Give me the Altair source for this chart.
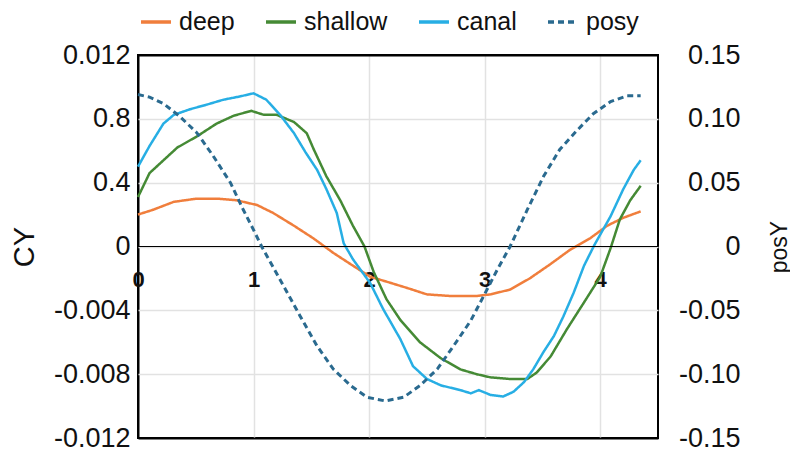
import altair as alt
import pandas as pd

# ---- data ----
deep_x = [0, 0.13, 0.31, 0.51, 0.68, 0.85, 1.03, 1.17, 1.35, 1.52, 1.69, 1.86, 2.01, 2.15, 2.33, 2.5, 2.7, 2.93,
          3.05, 3.22, 3.39, 3.57, 3.74, 3.91, 4.06, 4.2, 4.35]
deep_y = [0.0020, 0.0023, 0.0028, 0.0030, 0.0030, 0.0029, 0.0026, 0.0021, 0.0013, 0.0005, -0.0004, -0.0012, -0.0019,
          -0.0022, -0.0026, -0.0030, -0.0031, -0.0031, -0.0030, -0.0027, -0.0020, -0.0011, -0.0002, 0.0005, 0.0013,
          0.0018, 0.0022]

shallow_x = [0, 0.10, 0.22, 0.34, 0.51, 0.68, 0.83, 0.98, 1.09, 1.2, 1.35, 1.46, 1.52, 1.63, 1.75, 1.86, 1.96, 2.04,
             2.15, 2.27, 2.44, 2.62, 2.79, 2.93, 3.05, 3.22, 3.37, 3.45, 3.57, 3.71, 3.86, 4.0, 4.09, 4.17, 4.26, 4.35]
shallow_y = [0.0031, 0.0046, 0.0054, 0.0062, 0.0069, 0.0077, 0.0082, 0.0085, 0.00825, 0.00825, 0.0078, 0.0071,
             0.0061, 0.0044, 0.0029, 0.0013, 0.0, -0.0016, -0.0033, -0.0046, -0.0060, -0.0070, -0.0077, -0.0080,
             -0.0082, -0.0083, -0.0083, -0.0079, -0.0069, -0.0052, -0.0035, -0.0019, -0.0001, 0.0017, 0.0029, 0.0038]

canal_x = [0, 0.10, 0.22, 0.31, 0.45, 0.6, 0.74, 0.88, 1.0, 1.11, 1.23, 1.35, 1.45, 1.55, 1.63, 1.72, 1.78, 1.86,
           2.01, 2.12, 2.27, 2.38, 2.5, 2.62, 2.79, 2.88, 2.95, 3.05, 3.16, 3.25, 3.34, 3.42, 3.51, 3.6, 3.68, 3.77,
           3.86, 3.95, 4.09, 4.2, 4.29, 4.35]
canal_y = [0.0050, 0.0063, 0.0077, 0.00825, 0.0086, 0.0089, 0.0092, 0.0094, 0.0096, 0.0092, 0.00825, 0.0071, 0.0059,
           0.0048, 0.0036, 0.0021, 0.0002, -0.0008, -0.0023, -0.0039, -0.0058, -0.0075, -0.0083, -0.0087, -0.0090,
           -0.0092, -0.0090, -0.0093, -0.0094, -0.0091, -0.0085, -0.0077, -0.0066, -0.0056, -0.0044, -0.0029,
           -0.0012, 0.0001, 0.0019, 0.0036, 0.0048, 0.0054]

posy_x = [0, 0.1, 0.22, 0.36, 0.51, 0.65, 0.8, 0.91, 1.0, 1.07, 1.26, 1.4, 1.55, 1.69, 1.84, 1.98, 2.14, 2.3, 2.44,
          2.59, 2.73, 2.88, 2.99, 3.11, 3.22, 3.37, 3.51, 3.65, 3.8, 3.94, 4.09, 4.23, 4.35]
posy_y = [0.119, 0.117, 0.112, 0.102, 0.089, 0.071, 0.050, 0.029, 0.013, 0.0, -0.031, -0.054, -0.078, -0.096,
          -0.109, -0.118, -0.121, -0.118, -0.109, -0.096, -0.078, -0.058, -0.039, -0.018, 0.0, 0.029, 0.055, 0.076,
          0.091, 0.104, 0.1135, 0.118, 0.118]

series_names = ["deep", "shallow", "canal", "posy"]
series_colors = ["#f07e3c", "#458a35", "#27aee4", "#2a6a8f"]

x_ticks = [0, 1, 2, 3, 4]
left_tick_values = [-0.012, -0.010, -0.008, -0.006, -0.004, -0.002, 0.0, 0.002, 0.004, 0.006, 0.008, 0.010, 0.012]
left_labels = {-12: "-0.012", -8: "-0.008", -4: "-0.004", 0: "0", 4: "0.4", 8: "0.8", 12: "0.012"}
right_tick_values = [-0.15, -0.10, -0.05, 0.0, 0.05, 0.10, 0.15]
right_labels = {-15: "-0.15", -10: "-0.10", -5: "-0.05", 0: "0", 5: "0.05", 10: "0.10", 15: "0.15"}

# ---- tables ----
rows = []
for name, xs, ys in [("deep", deep_x, deep_y), ("shallow", shallow_x, shallow_y), ("canal", canal_x, canal_y)]:
    for i, (a, b) in enumerate(zip(xs, ys)):
        rows.append({"t": a, "CY": b, "series": name, "order": i})
cy_df = pd.DataFrame(rows)
pos_df = pd.DataFrame({"t": posy_x, "posY": posy_y, "series": "posy", "order": range(len(posy_x))})


def label_expr(mapping, mult):
    expr = "''"
    for k, v in mapping.items():
        expr = f"round(datum.value*{mult})=={k} ? '{v}' : ({expr})"
    return expr


FONT = "Liberation Sans"
GRID = "#e2e2e2"

x_enc = alt.X("t:Q", scale=alt.Scale(domain=[0, 4.5], nice=False, zero=False),
              axis=alt.Axis(values=x_ticks, title=None, grid=True,
                            gridColor={"condition": {"test": "datum.value == 0", "value": "black"}, "value": GRID},
                            gridWidth={"condition": {"test": "datum.value == 0", "value": 2}, "value": 1.5},
                            domain=False, ticks=False, labelFontWeight="bold", labelFontSize=22,
                            labelColor="#111", labelFont=FONT, labelFlush=False, labelPadding=22,
                            offset=-191, format="d"))

legend = alt.Legend(title=None, orient="none", direction="horizontal", legendX=1,
                    legendY=-50, symbolType="stroke", symbolSize=900,
                    symbolStrokeWidth=3.5, labelFontSize=25, labelFont=FONT,
                    labelColor="#111", columnPadding=24, labelOffset=6)

color_enc = alt.Color("series:N", scale=alt.Scale(domain=series_names, range=series_colors), legend=legend)
dash_enc = alt.StrokeDash("series:N", scale=alt.Scale(domain=series_names,
                                                        range=[[1, 0], [1, 0], [1, 0], [6, 4]]),
                          legend=legend)

edge_test = "abs(datum.value) > 0.0119"
cy_lines = alt.Chart(cy_df).mark_line(strokeWidth=2.5).encode(
    x=x_enc,
    y=alt.Y("CY:Q", scale=alt.Scale(domain=[-0.012, 0.012], nice=False, zero=False),
            axis=alt.Axis(values=left_tick_values, title="CY", titleFontSize=29, titleFont=FONT,
                          titleFontWeight="normal", titleColor="#111", titleAngle=270, titleBaseline="middle",
                          titleX=-114, labelExpr=label_expr(left_labels, 1000), labelFontSize=27,
                          labelFont=FONT, labelColor="#111", labelPadding=8, labelFlush=False,
                          labelOverlap=False, domain=False, ticks=False, grid=True,
                          gridColor={"condition": {"test": edge_test, "value": "black"}, "value": GRID},
                          gridWidth={"condition": {"test": edge_test, "value": 2}, "value": 1.5})),
    color=color_enc,
    strokeDash=dash_enc,
    order="order:Q",
)

zero_rule = alt.Chart(cy_df).mark_rule(color="black", strokeWidth=1.2).encode(y=alt.datum(0))

pos_line = alt.Chart(pos_df).mark_line(strokeWidth=3).encode(
    x=x_enc,
    y=alt.Y("posY:Q", scale=alt.Scale(domain=[-0.15, 0.15], nice=False, zero=False),
            axis=alt.Axis(orient="right", values=right_tick_values, title="posY", titleFontSize=23,
                          titleFont=FONT, titleFontWeight="normal", titleColor="#111", titleAngle=270,
                          titleBaseline="middle", titleX=121, labelExpr=label_expr(right_labels, 100),
                          labelFontSize=27, labelFont=FONT, labelColor="#111", labelAlign="right",
                          labelPadding=82, labelFlush=False, labelOverlap=False, domain=False, ticks=False,
                          grid=False)),
    color=color_enc,
    strokeDash=dash_enc,
    order="order:Q",
)

chart = alt.layer(alt.layer(cy_lines, zero_rule), pos_line).resolve_scale(y="independent").properties(
    width=520, height=383,
    autosize=alt.AutoSizeParams(type="none"),
    padding={"left": 138, "top": 55, "right": 132, "bottom": 19},
    background="white",
).configure_view(stroke="black", strokeWidth=2)

chart.save("out.html", embed_options={"renderer": "svg", "actions": False})
